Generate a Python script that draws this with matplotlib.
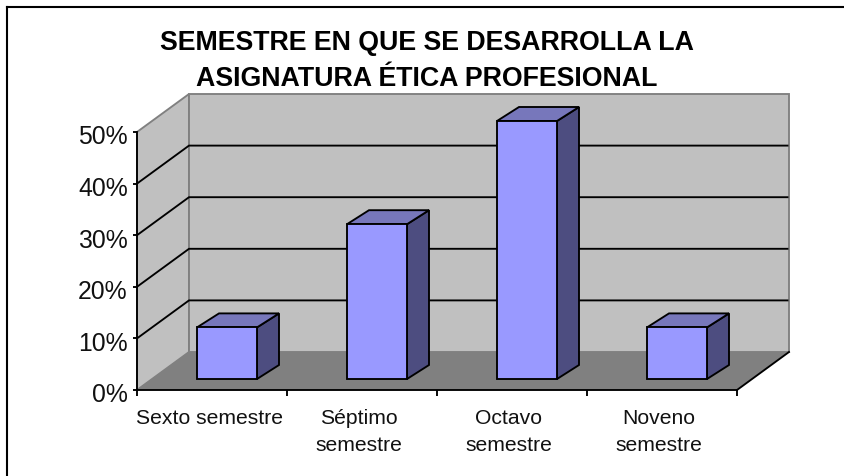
import matplotlib
matplotlib.use("Agg")
import matplotlib.pyplot as plt
from matplotlib.patches import Polygon
from matplotlib.transforms import ScaledTranslation

# datos
categorias = ["Sexto semestre", "Séptimo\nsemestre", "Octavo\nsemestre", "Noveno\nsemestre"]
valores = [10, 30, 50, 10]
ticks_y = [0, 10, 20, 30, 40, 50]
titulo = "SEMESTRE EN QUE SE DESARROLLA LA\nASIGNATURA ÉTICA PROFESIONAL"

W, H = 844, 476
plt.rcParams["font.family"] = ["Liberation Sans", "DejaVu Sans"]

# profundidad del grafico 3D en unidades de datos
FONDO_X, FONDO_Y = 52 / 150, 38 / 5.16
BARRA_X, BARRA_Y = 22 / 150, 14 / 5.16
BARRA_INI, BARRA_ANCHO = 0.40, 0.40
BARRA_BASE = 11 / 5.16

fig = plt.figure(figsize=(W / 100, H / 100), dpi=100)
ax = fig.add_axes([137 / W, 1 - 390 / H, 600 / W, 258 / H])
ax.set_xlim(0, len(categorias))
ax.set_ylim(0, ticks_y[-1])
ax.patch.set_visible(False)

n = len(categorias)
top = ticks_y[-1]
LW = 1.35


def poly(pts, fc, ec="none", lw=0, z=1):
    ax.add_patch(Polygon(pts, closed=True, facecolor=fc, edgecolor=ec, linewidth=lw,
                         zorder=z, clip_on=False, joinstyle="miter"))


# paredes y piso
poly([(0, 0), (FONDO_X, FONDO_Y), (FONDO_X, top + FONDO_Y), (0, top)], "#C0C0C0", "#808080", LW, 1)
poly([(FONDO_X, FONDO_Y), (n + FONDO_X, FONDO_Y), (n + FONDO_X, top + FONDO_Y), (FONDO_X, top + FONDO_Y)],
     "#C0C0C0", "#808080", LW, 1)
poly([(0, 0), (n, 0), (n + FONDO_X, FONDO_Y), (FONDO_X, FONDO_Y)], "#808080", z=2)

# lineas de division
for v in ticks_y[1:-1]:
    ax.plot([0, FONDO_X, n + FONDO_X - 0.01], [v, v + FONDO_Y, v + FONDO_Y], color="black", lw=LW,
            zorder=2, clip_on=False, solid_joinstyle="miter")
ax.plot([n, n + FONDO_X], [0, FONDO_Y], color="black", lw=LW, zorder=3, clip_on=False)

# barras
for i, v in enumerate(valores):
    x0 = i + BARRA_INI
    x1 = x0 + BARRA_ANCHO
    y0 = BARRA_BASE
    y1 = y0 + v
    poly([(x1, y0), (x1 + BARRA_X, y0 + BARRA_Y), (x1 + BARRA_X, y1 + BARRA_Y), (x1, y1)],
         "#4D4D80", "black", LW, 4)
    poly([(x0, y1), (x1, y1), (x1 + BARRA_X, y1 + BARRA_Y), (x0 + BARRA_X, y1 + BARRA_Y)],
         "#7777BB", "black", LW, 4)
    poly([(x0, y0), (x1, y0), (x1, y1), (x0, y1)], "#9999FF", "black", LW, 5)

for lado in ["top", "right"]:
    ax.spines[lado].set_visible(False)
for lado in ["left", "bottom"]:
    ax.spines[lado].set_linewidth(LW)
    ax.spines[lado].set_zorder(6)

ax.set_yticks(ticks_y)
ax.set_yticklabels([f"{v}%" for v in ticks_y], fontsize=17.8, color="#111111")
ax.tick_params(axis="y", length=3, width=LW, pad=3.6)
# las etiquetas del eje y van un poco mas abajo que su marca
baja = ScaledTranslation(0, -3 / 100, fig.dpi_scale_trans)
for t in ax.get_yticklabels():
    t.set_transform(t.get_transform() + baja)

ax.set_xticks(range(n + 1))
ax.set_xticklabels([])
ax.tick_params(axis="x", which="major", length=4, width=LW)
ax.set_xticks([i + 0.48 for i in range(n)], minor=True)
ax.set_xticklabels(categorias, minor=True, fontsize=15.2, linespacing=1.52, color="#111111")
ax.tick_params(axis="x", which="minor", length=0, pad=13.6)

fig.text(427 / W, 1 - 61 / H, titulo, ha="center", va="center", fontsize=19.3,
         fontweight="bold", linespacing=1.45)

# marco del grafico, solo arriba e izquierda
fig.add_artist(plt.Line2D([7 / W, 7 / W], [0, 1 - 6.5 / H], color="black", lw=1.5, solid_capstyle="projecting"))
fig.add_artist(plt.Line2D([7 / W, 1], [1 - 6.5 / H, 1 - 6.5 / H], color="black", lw=1.5, solid_capstyle="projecting"))

fig.savefig("out.png", dpi=100)
